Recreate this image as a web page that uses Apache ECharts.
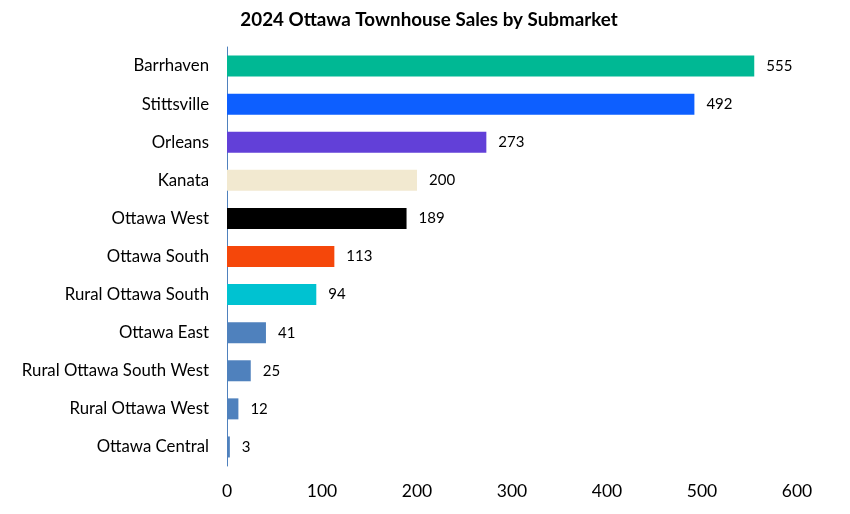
<!DOCTYPE html>
<html><head><meta charset="utf-8">
<script src="https://cdn.jsdelivr.net/npm/echarts@6/dist/echarts.min.js"></script>
<style>html,body{margin:0;padding:0;background:#fff}#c{width:850px;height:514px}</style>
</head><body><div id="c"></div>
<script>
const categories = ["Barrhaven","Stittsville","Orleans","Kanata","Ottawa West","Ottawa South","Rural Ottawa South","Ottawa East","Rural Ottawa South West","Rural Ottawa West","Ottawa Central"];
const values = [555,492,273,200,189,113,94,41,25,12,3];
const barColors = ["#00B894","#0D5FFF","#6240D8","#F2E9D0","#000000","#F5470A","#00C2D1","#4F81BD","#4F81BD","#4F81BD","#4F81BD"];
const xTicks = [0,100,200,300,400,500,600];
const FONT = "Lato, sans-serif";
const chart = echarts.init(document.getElementById('c'));
chart.setOption({
  animation:false,
  title:{text:"2024 Ottawa Townhouse Sales by Submarket",left:428,top:5,textAlign:'center',
    textStyle:{fontFamily:FONT,fontSize:18.8,fontWeight:'bold',color:'#000'}},
  grid:{left:227,right:53,top:47,bottom:48,containLabel:false},
  xAxis:{type:'value',min:xTicks[0],max:xTicks[xTicks.length-1],interval:100,
    axisLine:{show:false},axisTick:{show:false},splitLine:{show:false},
    axisLabel:{fontFamily:FONT,fontSize:17.5,color:'#000',margin:16}},
  yAxis:{type:'category',inverse:true,data:categories,
    axisLine:{show:true,lineStyle:{color:'#4F81BD',width:1}},axisTick:{show:false},
    axisLabel:{fontFamily:FONT,fontSize:16.8,color:'#000',margin:18}},
  series:[{type:'bar',barWidth:21,
    data:values.map((v,i)=>({value:v,itemStyle:{color:barColors[i]}})),
    label:{show:true,position:'right',distance:12,fontFamily:FONT,fontSize:15,color:'#000'}}]
});
chart.setOption({title:{left:424}});
</script></body></html>
